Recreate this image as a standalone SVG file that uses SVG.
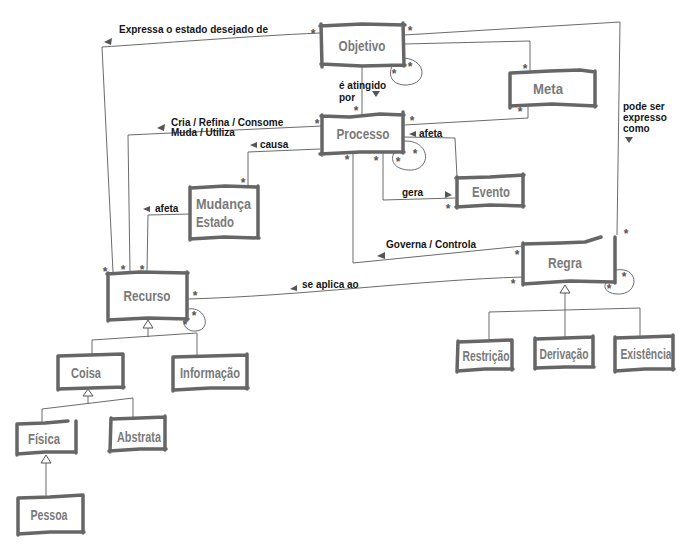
<svg xmlns="http://www.w3.org/2000/svg" width="700" height="546" viewBox="0 0 700 546">
<style>
.bg{fill:#ffffff;stroke:none}
.bx{fill:none;stroke:#666;stroke-width:3.5;stroke-linecap:round;stroke-linejoin:round}
.nt{font-family:"Liberation Sans",Arial,sans-serif;font-weight:bold;font-size:15px;fill:#7a7a7a;text-anchor:middle}
.lb{font-family:"Liberation Sans",Arial,sans-serif;font-weight:bold;font-size:10px;fill:#151515}
.ln{fill:none;stroke:#5a5a5a;stroke-width:0.9}
.ar{fill:#555;stroke:none}
.gt{fill:#fff;stroke:#555;stroke-width:1}
.as{font-family:"Liberation Sans",Arial,sans-serif;font-weight:bold;font-size:12px;fill:#555;text-anchor:middle}
</style>
<rect x="0" y="0" width="700" height="546" fill="#ffffff"/>

<g id="connectors">
  <!-- Objetivo -> Recurso : Expressa o estado desejado de -->
  <path class="ln" d="M320,33 C250,36 150,44 102,47 L113,272"/>
  <text class="lb" x="119" y="33">Expressa o estado desejado de</text>
  <polygon class="ar" points="104,42 112,38 111,45"/>
  <text class="as" x="313" y="38">*</text>
  <text class="as" x="105" y="276">*</text>

  <!-- Objetivo -> Regra : pode ser expresso como -->
  <path class="ln" d="M404,35 L620,22 L617,235"/>
  <text class="lb" x="623" y="110">pode ser</text>
  <text class="lb" x="623" y="121">expresso</text>
  <text class="lb" x="623" y="132">como</text>
  <polygon class="ar" points="629,143 625,137 633,137"/>
  <text class="as" x="410" y="35">*</text>
  <text class="as" x="626" y="238">*</text>

  <!-- Objetivo -> Meta -->
  <path class="ln" d="M404,44 L530,41 L530,72"/>
  <text class="as" x="525" y="73">*</text>

  <!-- Meta -> Processo -->
  <path class="ln" d="M528,107 L528,118 L404,125"/>
  <text class="as" x="520" y="116">*</text>
  <text class="as" x="412" y="125">*</text>

  <!-- Objetivo self loop -->
  <path class="ln" d="M404,58 C428,60 428,86 404,85 C392,84 388,76 392,66"/>
  <text class="as" x="410" y="71">*</text>
  <text class="as" x="394" y="78">*</text>

  <!-- Objetivo -> Processo : é atingido por -->
  <path class="ln" d="M362,66 L362,115"/>
  <text class="lb" x="339" y="89">é atingido</text>
  <text class="lb" x="339" y="101">por</text>
  <polygon class="ar" points="376,97 372,91 380,91"/>
  <text class="as" x="356" y="115">*</text>

  <!-- Processo -> Recurso : Cria / Refina / Consome / Muda / Utiliza -->
  <path class="ln" d="M322,126 L128,135 L130,272"/>
  <text class="lb" x="171" y="126">Cria / Refina / Consome</text>
  <text class="lb" x="171" y="136">Muda / Utiliza</text>
  <polygon class="ar" points="157,128 165,124 164,131"/>
  <text class="as" x="317" y="128">*</text>
  <text class="as" x="123" y="274">*</text>

  <!-- Processo -> Mudança Estado : causa -->
  <path class="ln" d="M320,149 L248,152 L248,187"/>
  <text class="lb" x="260" y="148">causa</text>
  <polygon class="ar" points="250,145 257,142 257,148"/>
  <text class="as" x="243" y="187">*</text>

  <!-- Mudança Estado -> Recurso : afeta -->
  <path class="ln" d="M190,214 L148,215 L147,272"/>
  <text class="lb" x="155" y="212">afeta</text>
  <polygon class="ar" points="143,209 150,206 150,212"/>
  <text class="as" x="142" y="274">*</text>

  <!-- Evento -> Processo : afeta -->
  <path class="ln" d="M404,137 L455,138 L457,177"/>
  <text class="lb" x="419" y="137">afeta</text>
  <polygon class="ar" points="409,134 416,131 416,137"/>

  <!-- Processo -> Evento : gera -->
  <path class="ln" d="M383,153 L383,200 L455,198"/>
  <text class="lb" x="402" y="196">gera</text>
  <polygon class="ar" points="452,195 445,191 445,198"/>
  <text class="as" x="376" y="165">*</text>
  <text class="as" x="448" y="213">*</text>

  <!-- Processo self loop -->
  <path class="ln" d="M404,141 C432,140 432,172 408,170 C394,169 390,160 394,153"/>
  <text class="as" x="415" y="158">*</text>
  <text class="as" x="398" y="166">*</text>

  <!-- Regra -> Processo : Governa / Controla -->
  <path class="ln" d="M523,246 L353,263 L353,153"/>
  <text class="lb" x="386" y="248">Governa / Controla</text>
  <polygon class="ar" points="377,256 385,252 385,259"/>
  <text class="as" x="347" y="164">*</text>
  <text class="as" x="517" y="259">*</text>

  <!-- Regra -> Recurso : se aplica ao -->
  <path class="ln" d="M188,299 C300,296 420,280 523,277"/>
  <text class="lb" x="302" y="288">se aplica ao</text>
  <polygon class="ar" points="290,289 297,285 297,291"/>
  <text class="as" x="195" y="300">*</text>
  <text class="as" x="513" y="288">*</text>

  <!-- Recurso self loop -->
  <path class="ln" d="M188,309 C206,306 212,330 196,331 C188,332 183,326 184,320"/>
  <text class="as" x="194" y="320">*</text>
  <text class="as" x="185" y="329">*</text>

  <!-- Regra self loop -->
  <path class="ln" d="M616,270 C640,266 640,296 616,294 C606,293 603,287 606,283"/>
  <text class="as" x="624" y="281">*</text>
  <text class="as" x="609" y="293">*</text>

  <!-- Generalization: Recurso -->
  <path class="ln" d="M148,328 L148,337 M92,340 L197,333 M92,340 L92,355 M197,333 L197,355"/>
  <polygon class="gt" points="148,320 143,328 153,328"/>

  <!-- Generalization: Coisa -->
  <path class="ln" d="M88,396 L88,404 M42,409 L133,398 M42,409 L42,423 M133,398 L133,418"/>
  <polygon class="gt" points="88,389 83,396 93,396"/>

  <!-- Generalization: Física -->
  <path class="ln" d="M46,463 L46,497"/>
  <polygon class="gt" points="46,455 41,463 51,463"/>

  <!-- Generalization: Regra -->
  <path class="ln" d="M565,293 L565,338 M489,312 L640,308 M489,312 L489,341 M640,308 L640,337"/>
  <polygon class="gt" points="565,285 560,293 570,293"/>
</g>

<g id="objetivo">
  <rect class="bg" x="322" y="25" width="81" height="40"/>
  <path class="bx" d="M320,26 L362,24 L405,25 M403,23 L404,66 M405,65 L362,66 L321,64 M322,67 L321,24"/>
  <text class="nt" x="362" y="51" textLength="47" lengthAdjust="spacingAndGlyphs">Objetivo</text>
</g>

<g id="meta">
  <rect class="bg" x="510" y="72" width="85" height="35"/>
  <path class="bx" d="M511,73 L550,71 L580,70 L595,72 M595,71 L595,107 M596,106 L552,104 L510,106 M510,108 L510,73"/>
  <text class="nt" x="548" y="94" textLength="30" lengthAdjust="spacingAndGlyphs">Meta</text>
</g>

<g id="processo">
  <rect class="bg" x="322" y="115" width="81" height="38"/>
  <path class="bx" d="M321,116 L350,117 L380,114 L404,115 M403,112 L403,153 M404,152 L360,152 L320,154 M322,155 L322,115"/>
  <text class="nt" x="363" y="139" textLength="53" lengthAdjust="spacingAndGlyphs">Processo</text>
</g>

<g id="evento">
  <rect class="bg" x="457" y="177" width="66" height="30"/>
  <path class="bx" d="M456,178 L490,177 L524,175 M523,174 L523,207 M524,206 L490,205 L456,207 M457,208 L457,177"/>
  <text class="nt" x="491" y="197" textLength="38" lengthAdjust="spacingAndGlyphs">Evento</text>
</g>

<g id="mudanca-estado">
  <rect class="bg" x="190" y="187" width="68" height="51"/>
  <path class="bx" d="M191,188 L225,186 L258,187 M258,186 L258,238 M259,238 L224,237 L190,239 M190,240 L190,187"/>
  <text class="nt" x="196" y="209" style="text-anchor:start" textLength="55" lengthAdjust="spacingAndGlyphs">Mudança</text>
  <text class="nt" x="196" y="227" style="text-anchor:start" textLength="38" lengthAdjust="spacingAndGlyphs">Estado</text>
</g>

<g id="recurso">
  <rect class="bg" x="108" y="273" width="79" height="47"/>
  <path class="bx" d="M107,274 L140,272 L188,273 M187,272 L187,320 M188,319 L148,318 L108,320 M108,321 L108,273"/>
  <text class="nt" x="147" y="301" textLength="47" lengthAdjust="spacingAndGlyphs">Recurso</text>
</g>

<g id="regra">
  <rect class="bg" x="523" y="243" width="92" height="40"/>
  <path class="bx" d="M523,244 L560,243 L585,242 L601,237 M615,237 L615,283 M613,282 L570,281 L523,284 M523,285 L523,243"/>
  <text class="nt" x="565" y="268" textLength="34" lengthAdjust="spacingAndGlyphs">Regra</text>
</g>

<g id="coisa">
  <rect class="bg" x="58" y="355" width="65" height="33"/>
  <path class="bx" d="M58,356 L90,355 L123,354 M123,354 L123,388 M124,387 L90,388 L58,389 M58,390 L58,356"/>
  <text class="nt" x="86" y="378" textLength="30" lengthAdjust="spacingAndGlyphs">Coisa</text>
</g>

<g id="informacao">
  <rect class="bg" x="173" y="356" width="74" height="33"/>
  <path class="bx" d="M173,357 L210,356 L247,355 M247,354 L247,389 M248,388 L210,388 L174,390 M173,391 L173,357"/>
  <text class="nt" x="210" y="378" textLength="60" lengthAdjust="spacingAndGlyphs">Informação</text>
</g>

<g id="fisica">
  <rect class="bg" x="17" y="423" width="59" height="30"/>
  <path class="bx" d="M17,424 L45,423 L68,421 M76,421 L76,453 M76,452 L45,452 L17,454 M17,455 L17,424"/>
  <text class="nt" x="44" y="444" textLength="32" lengthAdjust="spacingAndGlyphs">Física</text>
</g>

<g id="abstrata">
  <rect class="bg" x="110" y="418" width="55" height="32"/>
  <path class="bx" d="M112,419 L140,418 L165,417 M165,416 L165,450 M166,449 L140,449 L109,451 M110,452 L111,418"/>
  <text class="nt" x="139" y="442" textLength="44" lengthAdjust="spacingAndGlyphs">Abstrata</text>
</g>

<g id="pessoa">
  <rect class="bg" x="18" y="497" width="65" height="36"/>
  <path class="bx" d="M18,498 L50,497 L83,495 M83,495 L83,533 M84,532 L50,532 L18,534 M18,535 L18,498"/>
  <text class="nt" x="49" y="520" textLength="37" lengthAdjust="spacingAndGlyphs">Pessoa</text>
</g>

<g id="restricao">
  <rect class="bg" x="457" y="341" width="55" height="29"/>
  <path class="bx" d="M458,342 L485,341 L512,340 M512,340 L512,370 M513,369 L485,369 L457,371 M457,372 L458,341"/>
  <text class="nt" x="486" y="361" textLength="47" lengthAdjust="spacingAndGlyphs">Restrição</text>
</g>

<g id="derivacao">
  <rect class="bg" x="535" y="338" width="58" height="29"/>
  <path class="bx" d="M536,339 L565,338 L593,337 M593,336 L593,367 M594,367 L565,367 L535,368 M535,369 L535,338"/>
  <text class="nt" x="564" y="359" textLength="49" lengthAdjust="spacingAndGlyphs">Derivação</text>
</g>

<g id="existencia">
  <rect class="bg" x="615" y="337" width="58" height="33"/>
  <path class="bx" d="M615,338 L645,337 L673,336 M673,335 L673,370 M674,369 L645,369 L615,371 M615,372 L615,337"/>
  <text class="nt" x="646" y="359" textLength="51" lengthAdjust="spacingAndGlyphs">Existência</text>
</g>
</svg>
